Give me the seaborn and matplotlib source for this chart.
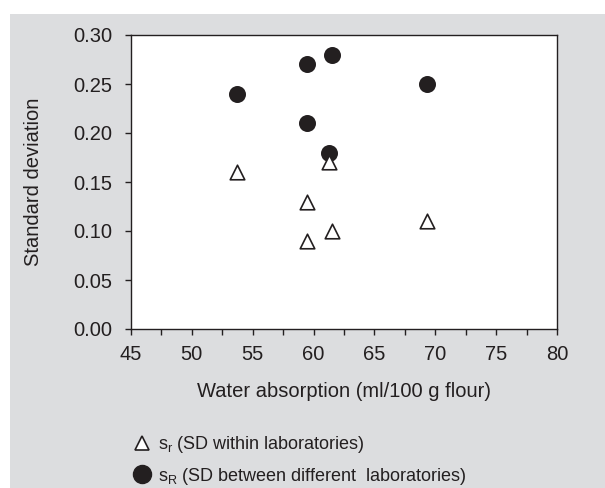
import matplotlib
matplotlib.use("Agg")
import matplotlib.pyplot as plt
import seaborn as sns
import pandas as pd
from matplotlib.lines import Line2D
from matplotlib.patches import Rectangle

water_abs = [53.7, 59.5, 59.5, 61.5, 61.3, 69.3]
sd_within = [0.16, 0.13, 0.09, 0.10, 0.17, 0.11]
water_abs_R = [53.7, 59.5, 59.5, 61.5, 61.3, 69.3]
sd_between = [0.24, 0.27, 0.21, 0.28, 0.18, 0.25]
x_ticks = [45, 50, 55, 60, 65, 70, 75, 80]
y_ticks = [0.00, 0.05, 0.10, 0.15, 0.20, 0.25, 0.30]

sns.set_theme(style="ticks")
plt.rcParams['font.family'] = ['Liberation Sans', 'DejaVu Sans']
plt.rcParams['mathtext.fontset'] = 'custom'
plt.rcParams['mathtext.rm'] = 'Liberation Sans'
plt.rcParams['mathtext.it'] = 'Liberation Sans'

BG = '#dcdddf'
TXT = '#231f20'

fig = plt.figure(figsize=(6.05, 4.88), dpi=100, facecolor='white')
fig.patches.append(Rectangle((10/605, 0), 1 - 10/605, 1 - 14/488, transform=fig.transFigure,
                             facecolor=BG, edgecolor='none', zorder=-10))
ax = fig.add_axes([131/605, 1 - 329/488, (557-131)/605, (329-35)/488])
ax.set_facecolor('white')

df_r = pd.DataFrame({'x': water_abs, 'y': sd_within})
df_R = pd.DataFrame({'x': water_abs_R, 'y': sd_between})
sns.scatterplot(data=df_R, x='x', y='y', ax=ax, marker='o', s=150, color='#231f20',
                edgecolor='#231f20', linewidth=0, zorder=3)
sns.scatterplot(data=df_r, x='x', y='y', ax=ax, marker='^', s=110, facecolor='white',
                edgecolor='#231f20', linewidth=1.2, zorder=4)

ax.set_xlim(45, 80)
ax.set_ylim(0, 0.30)
ax.set_xticks(x_ticks)
ax.set_xticklabels([str(v) for v in x_ticks])
ax.set_xticks([47.5 + 5*i for i in range(7)], minor=True)
ax.set_yticks(y_ticks)
ax.set_yticklabels([f"{v:.2f}" for v in y_ticks])
ax.tick_params(axis='both', which='both', direction='out', length=4.5, width=1.0,
               color='#231f20', labelsize=14.5, labelcolor=TXT)
ax.tick_params(axis='y', which='major', pad=9)
ax.tick_params(axis='x', which='major', pad=7)
for s in ax.spines.values():
    s.set_color('#231f20')
    s.set_linewidth(1.0)
    s.set_visible(True)

ax.set_xlabel('Water absorption (ml/100 g flour)', fontsize=14.5, color=TXT, labelpad=13)
ax.set_ylabel('Standard deviation', fontsize=14.5, color=TXT, labelpad=22)

handles = [
    Line2D([], [], marker='^', linestyle='none', markersize=10, markerfacecolor='white',
           markeredgecolor='#231f20', markeredgewidth=1.2),
    Line2D([], [], marker='o', linestyle='none', markersize=13, markerfacecolor='#231f20',
           markeredgecolor='#231f20'),
]
labels = [r'$\mathregular{s_r}$ (SD within laboratories)',
          r'$\mathregular{s_R}$ (SD between different  laboratories)']
fig.legend(handles, labels, loc='lower left', bbox_to_anchor=(126/605, -6/488),
           frameon=False, fontsize=13, labelcolor=TXT, handletextpad=0.35,
           labelspacing=0.6, handlelength=1.0, borderaxespad=0)

fig.savefig('out.png', dpi=100, facecolor='white')
